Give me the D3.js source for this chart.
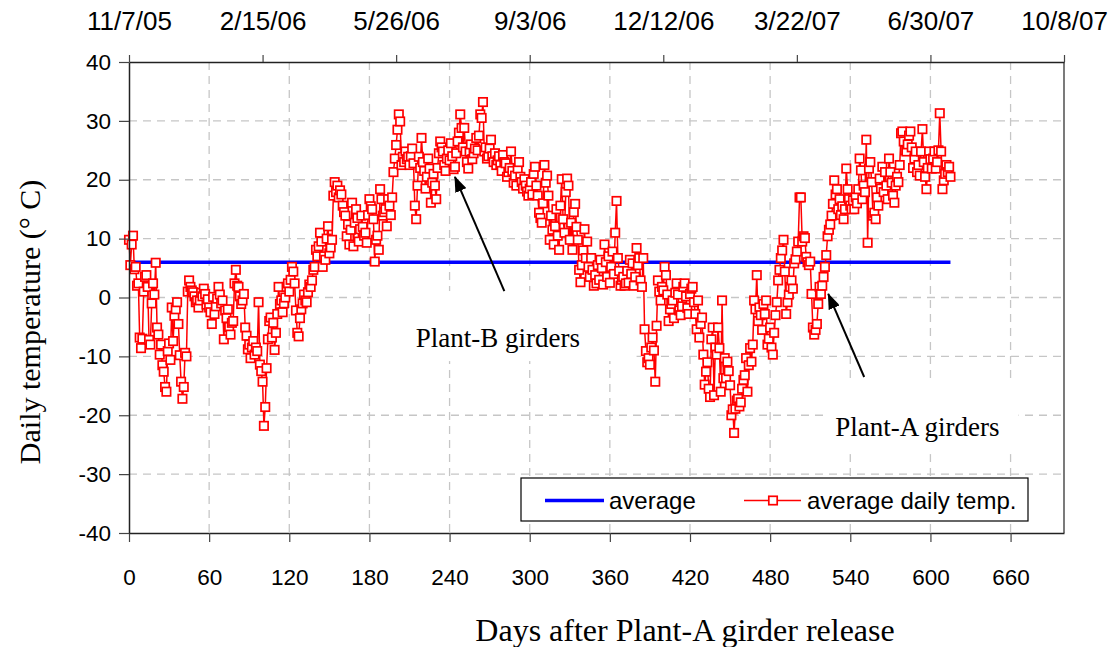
<!DOCTYPE html>
<html>
<head>
<meta charset="utf-8">
<script src="https://cdn.jsdelivr.net/npm/d3@7"></script>
<style>
  body { margin: 0; background: #fff; }
  svg { display: block; }
</style>
</head>
<body>
<div id="chart"></div>
<script>
// axis ticks
var xTicks = [0, 60, 120, 180, 240, 300, 360, 420, 480, 540, 600, 660];
var yTicks = [-40, -30, -20, -10, 0, 10, 20, 30, 40];
var topTickDays = [0, 100, 200, 300, 400, 500, 600, 700];
var topTickLabels = ["11/7/05", "2/15/06", "5/26/06", "9/3/06", "12/12/06", "3/22/07", "6/30/07", "10/8/07"];

// average temperature line
var averageTemp = 6.0;
var averageSpan = [0, 615];

// average daily temperature (deg C), one value per day starting at day 0
var dailyTemp = [
  9.8, 5.5, 9.0, 10.5, 4.8, 5.2, 2.0, 2.4, -6.8, -8.6,        // 0
  -7.0, 1.0, 3.5, 3.8, 1.8, -7.2, -8.0, -1.0, 2.4, 0.5,       // 10
  5.9, -5.1, -6.3, -9.7, -8.0, -11.5, -12.6, -15.2, -16.0, -9.1, // 20
  -7.8, -10.6, -1.7, -7.4, -3.1, -2.0, -0.8, -4.5, -9.8, -14.3, // 30
  -17.2, -15.2, -9.4, -10.0, 1.0, 2.9, 1.8, 1.2, 0.9, 0.2,    // 40
  -0.8, -0.5, -1.7, -0.5, 0.8, 0.2, 1.5, 0.6, -1.2, -0.3,     // 50
  -1.7, -2.5, -4.5, 0.1, -2.8, -1.5, -0.2, 1.8, 0.5, -1.0,    // 60
  -0.5, -7.1, -2.2, -3.5, -2.0, -5.0, -6.3, -4.3, -4.0, 2.4,  // 70
  4.7, 2.0, 1.8, 0.2, -1.1, -0.5, 0.6, -5.1, -6.5, -8.8,      // 80
  -8.0, -10.3, -8.5, -7.4, -9.7, -8.5, -9.1, -0.8, -11.4, -12.5, // 90
  -14.3, -21.8, -18.6, -12.0, -7.1, -4.0, -3.4, -6.8, -4.3, -8.9, // 100
  -6.0, -2.8, 1.8, -1.1, -0.5, -2.5, -1.0, 0.0, 1.8, 2.4,     // 110
  1.0, 3.0, 5.2, 4.4, 2.4, -2.2, -6.0, -6.6, -3.5, -2.0,      // 120
  -1.0, 0.5, -0.5, -0.8, 0.9, 2.2, 1.8, 2.9, 4.7, 5.2,        // 130
  8.1, 7.0, 8.7, 11.0, 9.5, 5.2, 7.0, 6.4, 10.0, 12.1,        // 140
  7.5, 8.5, 9.8, 17.3, 19.6, 17.9, 19.0, 17.0, 18.2, 17.5,    // 150
  15.6, 14.5, 13.9, 10.4, 12.4, 9.0, 11.5, 16.1, 8.7, 12.7,   // 160
  15.0, 13.5, 9.5, 11.6, 13.9, 12.0, 10.5, 11.0, 9.3, 14.0,   // 170
  16.7, 15.5, 15.0, 13.3, 6.1, 9.8, 10.5, 8.1, 18.4, 16.7,    // 180
  13.9, 14.5, 15.0, 12.1, 16.7, 15.6, 14.0, 17.0, 21.3, 23.6, // 190
  25.9, 28.5, 31.1, 29.9, 22.5, 23.9, 23.0, 24.8, 23.5, 23.9, // 200
  22.5, 24.0, 25.3, 22.8, 15.6, 13.3, 19.0, 23.9, 22.0, 27.1, // 210
  23.0, 21.5, 18.5, 20.5, 23.6, 21.9, 16.1, 19.5, 21.0, 19.0, // 220
  16.7, 22.0, 24.5, 26.5, 25.5, 24.8, 22.5, 21.5, 23.6, 25.0, // 230
  23.3, 26.2, 24.0, 21.8, 22.2, 24.5, 26.5, 28.0, 31.1, 28.8, // 240
  25.5, 28.8, 24.8, 23.0, 21.9, 24.8, 26.0, 23.5, 24.5, 25.3, // 250
  27.1, 25.0, 27.5, 31.1, 30.5, 33.2, 24.8, 25.5, 23.6, 24.0, // 260
  25.3, 26.8, 24.0, 23.0, 24.5, 22.5, 23.3, 24.0, 22.5, 21.5, // 270
  24.2, 23.0, 22.8, 20.5, 21.3, 22.0, 24.8, 21.5, 19.5, 20.7, // 280
  19.0, 21.9, 23.0, 20.5, 19.6, 18.5, 20.1, 19.0, 18.0, 17.3, // 290
  18.5, 19.6, 17.5, 21.0, 22.2, 19.0, 17.3, 14.4, 13.5, 12.7, // 300
  16.0, 22.5, 19.5, 20.7, 17.3, 9.8, 13.9, 11.5, 9.0, 12.1,   // 310
  15.0, 10.5, 8.1, 15.6, 20.1, 13.3, 11.0, 17.9, 20.2, 19.0,  // 320
  9.8, 12.7, 8.1, 14.5, 15.9, 12.0, 9.8, 4.7, 2.6, 5.5,       // 330
  8.0, 11.6, 6.7, 9.5, 5.2, 3.5, 6.7, 4.7, 2.0, 3.8,          // 340
  2.4, 5.5, 3.0, 6.4, 5.0, 2.2, 9.0, 6.0, 3.5, 7.0,           // 350
  2.5, 5.2, 7.8, 4.0, 11.0, 16.4, 6.7, 4.5, 2.0, 3.0,         // 360
  3.5, 2.0, 2.4, 4.5, 2.5, 6.4, 4.0, 5.8, 2.0, 3.5,           // 370
  8.4, 5.5, 6.7, 2.9, 1.8, 6.7, -5.4, -9.1, -11.0, -10.3,     // 380
  -11.4, -8.5, -6.8, -9.0, -14.3, -4.8, 2.9, 1.0, -0.5, 1.8,  // 390
  1.2, 5.2, 3.8, 0.5, -4.0, -2.0, -1.1, -0.5, -3.5, 0.8,      // 400
  2.4, 0.5, -2.2, -3.0, -1.5, 1.8, 2.4, 0.2, -1.8, -2.8,      // 410
  0.6, 1.5, 1.8, -0.8, -2.8, -5.4, -0.5, -6.8, -4.5, -3.4,    // 420
  -9.7, -14.8, -12.6, -11.0, -15.5, -16.9, -7.1, -5.1, -16.6, -8.5, // 430
  -9.7, -5.1, -8.6, -16.0, -0.5, -13.7, -10.3, -13.7, -10.9, -12.5, // 440
  -14.9, -20.0, -19.0, -23.0, -18.9, -17.5, -17.2, -18.5, -17.8, -15.5, // 450
  -14.0, -13.2, -10.3, -16.0, -11.5, -8.6, -10.9, -8.0, -0.5, -2.0, // 460
  3.8, -4.0, -1.7, -3.0, -5.5, -1.1, -2.8, -0.5, -8.0, -7.0,  // 470
  -5.1, -8.5, -9.7, -6.0, -3.0, -0.8, 2.9, 4.7, 6.7, 8.0,     // 480
  9.8, 4.4, -2.8, -0.8, 0.5, 1.8, 2.9, 1.5, 5.8, 6.5,         // 490
  7.8, 9.5, 17.0, 17.0, 9.5, 10.4, 10.1, 6.9, 6.0, 5.5,       // 500
  6.1, 0.6, -5.1, -6.3, -5.5, -4.5, -1.1, 1.8, 0.6, 2.0,      // 510
  3.5, 5.2, 7.2, 10.4, 11.5, 12.4, 13.9, 15.9, 19.9, 17.5,    // 520
  18.4, 15.0, 16.7, 14.0, 15.5, 13.3, 15.0, 21.9, 18.4, 16.7, // 530
  15.6, 15.0, 16.5, 15.0, 17.0, 16.0, 18.4, 23.6, 21.6, 16.7, // 540
  19.0, 17.9, 26.8, 9.3, 21.9, 23.0, 19.6, 13.9, 14.4, 13.3,  // 550
  17.0, 15.6, 20.2, 18.5, 22.2, 17.9, 21.3, 19.0, 16.7, 23.6, // 560
  21.3, 19.5, 17.3, 16.1, 19.0, 20.5, 19.6, 22.5, 27.9, 28.2, // 570
  26.5, 25.0, 24.8, 26.0, 27.5, 28.2, 25.5, 22.0, 23.6, 24.8, // 580
  21.3, 22.5, 20.7, 24.8, 28.6, 23.0, 20.5, 18.4, 22.0, 24.8, // 590
  23.5, 21.9, 23.6, 24.8, 21.9, 23.0, 25.0, 31.3, 24.8, 18.4, // 600
  19.9, 21.0, 22.5, 21.3, 22.2, 20.5                          // 610
];

// set the dimensions and margins of the graph
var margin = { top: 62, right: 54, bottom: 114, left: 129 },
    width = 1118 - margin.left - margin.right,
    height = 647 - margin.top - margin.bottom;

var svgRoot = d3.select("#chart")
    .append("svg")
    .attr("width", width + margin.left + margin.right)
    .attr("height", height + margin.top + margin.bottom);

var svg = svgRoot.append("g")
    .attr("transform", "translate(" + margin.left + "," + margin.top + ")");

var sans = "'Liberation Sans', Arial, sans-serif";
var serif = "'Liberation Serif', 'Times New Roman', serif";

var x = d3.scaleLinear().domain([0, 700]).range([0, width]);
var y = d3.scaleLinear().domain([-40, 40]).range([height, 0]);

// gridlines
svg.selectAll(".vgrid")
    .data(xTicks.filter(function (d) { return d > 0; }))
    .enter().append("line")
    .attr("x1", function (d) { return x(d); })
    .attr("x2", function (d) { return x(d); })
    .attr("y1", 0).attr("y2", height)
    .attr("stroke", "#c6c6c6").attr("stroke-width", 1.3)
    .attr("stroke-dasharray", "8 6");

svg.selectAll(".hgrid")
    .data(yTicks.filter(function (d) { return d > -40 && d < 40; }))
    .enter().append("line")
    .attr("x1", 0).attr("x2", width)
    .attr("y1", function (d) { return y(d); })
    .attr("y2", function (d) { return y(d); })
    .attr("stroke", "#c6c6c6").attr("stroke-width", 1.3)
    .attr("stroke-dasharray", "8 6");

// average line
svg.append("line")
    .attr("x1", x(averageSpan[0])).attr("x2", x(averageSpan[1]))
    .attr("y1", y(averageTemp)).attr("y2", y(averageTemp))
    .attr("stroke", "#0000ff").attr("stroke-width", 3.5);

// daily temperature line + markers
var line = d3.line()
    .x(function (d, i) { return x(i); })
    .y(function (d) { return y(d); });

svg.append("path")
    .datum(dailyTemp)
    .attr("d", line)
    .attr("fill", "none")
    .attr("stroke", "#ff0000")
    .attr("stroke-width", 1.5);

var ms = 8.4;
svg.selectAll(".pt")
    .data(dailyTemp)
    .enter().append("rect")
    .attr("x", function (d, i) { return x(i) - ms / 2; })
    .attr("y", function (d) { return y(d) - ms / 2; })
    .attr("width", ms).attr("height", ms)
    .attr("fill", "#fff")
    .attr("stroke", "#ff0000")
    .attr("stroke-width", 1.7);

// axes
function styleAxis(size) {
    return function (g) {
        g.select(".domain").attr("stroke", "#222").attr("stroke-width", 1.5);
        g.selectAll(".tick line").attr("stroke", "#444").attr("stroke-width", 1.2);
        g.selectAll("text").attr("font-family", sans).attr("font-size", size).attr("fill", "#000");
    };
}
var plainNum = function (d) { return String(d); };

svg.append("g")
    .attr("transform", "translate(0," + height + ")")
    .call(d3.axisBottom(x).tickValues(xTicks).tickFormat(plainNum)
        .tickSize(9).tickSizeOuter(0).tickPadding(27))
    .call(styleAxis(22.5));

svg.append("g")
    .call(d3.axisLeft(y).tickValues(yTicks).tickFormat(plainNum)
        .tickSize(10).tickSizeOuter(0).tickPadding(8))
    .call(styleAxis(22.5));

svg.append("g")
    .call(d3.axisTop(x).tickValues(topTickDays)
        .tickFormat(function (d, i) { return topTickLabels[i]; })
        .tickSize(7).tickSizeOuter(0).tickPadding(25))
    .call(styleAxis(26));

// right border
svg.append("line")
    .attr("x1", width).attr("x2", width)
    .attr("y1", 0).attr("y2", height)
    .attr("stroke", "#222").attr("stroke-width", 1.2);

// annotations (white text boxes drawn over the plot)
var annotations = [
    { label: "Plant-B girders", tip: [244, 20.5], tail: [281, 1.1],
      box: [181.8, 380, 1.1, -10.8], textAt: [214.7, -8.4] },
    { label: "Plant-A girders", tip: [523.5, 0.6], tail: [550.4, -13.5],
      box: [522, 666, -13.8, -26.6], textAt: [528.8, -23.5] }
];

svgRoot.append("defs").append("marker")
    .attr("id", "arrowhead")
    .attr("viewBox", "0 0 16 12")
    .attr("refX", 15).attr("refY", 6)
    .attr("markerWidth", 16).attr("markerHeight", 12)
    .attr("markerUnits", "userSpaceOnUse")
    .attr("orient", "auto")
    .append("path")
    .attr("d", "M0,0 L16,6 L0,12 Z")
    .attr("fill", "#000");

annotations.forEach(function (a) {
    svg.append("rect")
        .attr("x", x(a.box[0])).attr("y", y(a.box[2]))
        .attr("width", x(a.box[1]) - x(a.box[0]))
        .attr("height", y(a.box[3]) - y(a.box[2]))
        .attr("fill", "#fff");
    svg.append("line")
        .attr("x1", x(a.tail[0])).attr("y1", y(a.tail[1]))
        .attr("x2", x(a.tip[0])).attr("y2", y(a.tip[1]))
        .attr("stroke", "#000").attr("stroke-width", 2)
        .attr("marker-end", "url(#arrowhead)");
    svg.append("text")
        .attr("x", x(a.textAt[0])).attr("y", y(a.textAt[1]))
        .attr("font-family", serif).attr("font-size", 27)
        .attr("fill", "#000")
        .text(a.label);
});

// legend
var legend = svg.append("g")
    .attr("transform", "translate(" + (521 - margin.left) + "," + (478 - margin.top) + ")");
legend.append("rect")
    .attr("width", 507).attr("height", 43)
    .attr("fill", "#fff").attr("stroke", "#000").attr("stroke-width", 1.2);
legend.append("line")
    .attr("x1", 24).attr("x2", 83).attr("y1", 22.5).attr("y2", 22.5)
    .attr("stroke", "#0000ff").attr("stroke-width", 3.5);
legend.append("text")
    .attr("x", 88).attr("y", 31)
    .attr("font-family", sans).attr("font-size", 24).attr("fill", "#000")
    .text("average");
legend.append("line")
    .attr("x1", 223).attr("x2", 280).attr("y1", 22.5).attr("y2", 22.5)
    .attr("stroke", "#ff0000").attr("stroke-width", 1.5);
legend.append("rect")
    .attr("x", 252 - ms / 2).attr("y", 22.5 - ms / 2)
    .attr("width", ms).attr("height", ms)
    .attr("fill", "#fff").attr("stroke", "#ff0000").attr("stroke-width", 1.7);
legend.append("text")
    .attr("x", 286).attr("y", 31)
    .attr("font-family", sans).attr("font-size", 24).attr("fill", "#000")
    .text("average daily temp.");

// axis titles
svgRoot.append("text")
    .attr("transform", "translate(40,322) rotate(-90)")
    .attr("text-anchor", "middle")
    .attr("font-family", serif).attr("font-size", 30).attr("fill", "#000")
    .text("Daily temperature (° C)");

svgRoot.append("text")
    .attr("x", 685).attr("y", 641)
    .attr("text-anchor", "middle")
    .attr("font-family", serif).attr("font-size", 32).attr("fill", "#000")
    .text("Days after Plant-A girder release");
</script>
</body>
</html>
